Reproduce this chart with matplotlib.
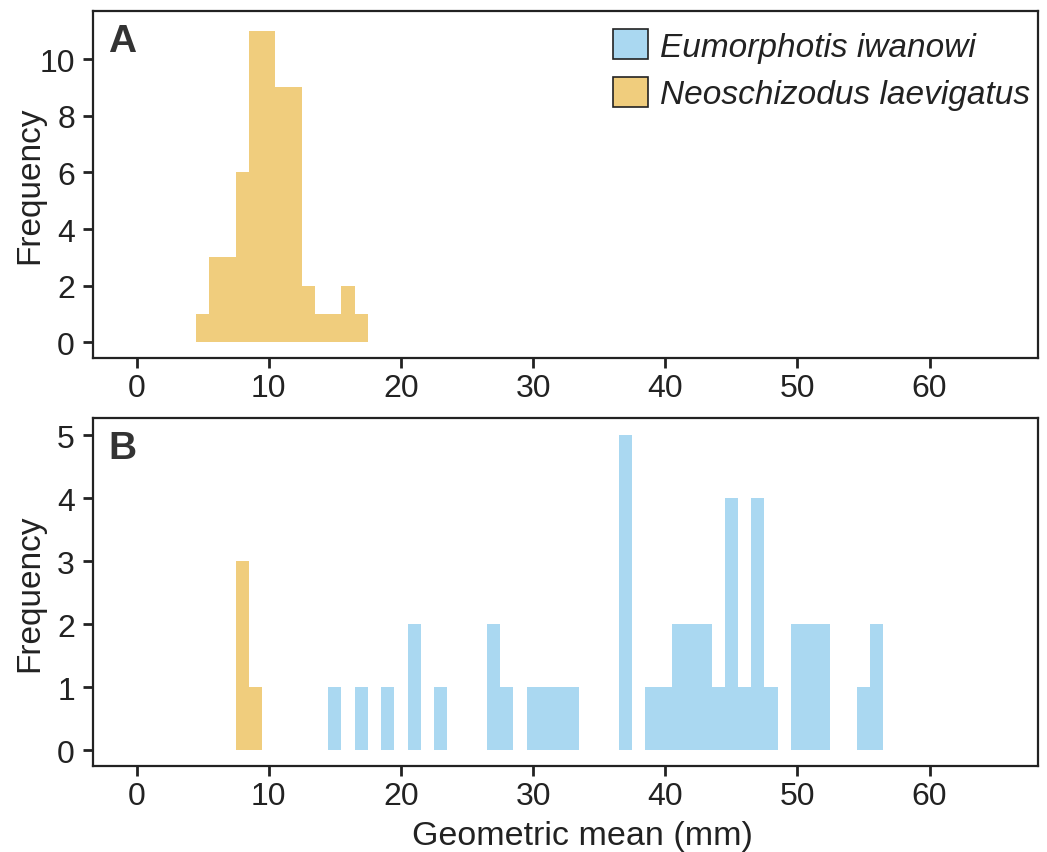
import numpy as np
import matplotlib
matplotlib.use("Agg")
import matplotlib.pyplot as plt
from matplotlib.patches import Patch

plt.rcParams['font.family'] = ['Liberation Sans', 'DejaVu Sans']

# bin centres (width 1 mm) and counts
a_neo_bins = [5, 6, 7, 8, 9, 10, 11, 12, 13, 14, 15, 16, 17]
a_neo_counts = [1, 3, 3, 6, 11, 11, 9, 9, 2, 1, 1, 2, 1]

b_neo_bins = [8, 9]
b_neo_counts = [3, 1]

b_eum_bins = [15, 17, 19, 21, 23, 27, 28, 30, 31, 32, 33, 37, 39, 40, 41, 42, 43,
              44, 45, 46, 47, 48, 50, 51, 52, 55, 56]
b_eum_counts = [1, 1, 1, 2, 1, 2, 1, 1, 1, 1, 1, 5, 1, 1, 2, 2, 2,
                1, 4, 1, 4, 1, 2, 2, 2, 1, 2]

species = ['Eumorphotis iwanowi', 'Neoschizodus laevigatus']
col_eum = '#aad8f1'
col_neo = '#f0cd7d'
ink = '#222222'

fig = plt.figure(figsize=(10.47, 8.53), dpi=100)
W, H = 1047, 853
axA = fig.add_axes([93 / W, 1 - 359 / H, (1038 - 93) / W, (359 - 12) / H])
axB = fig.add_axes([93 / W, 1 - 767 / H, (1038 - 93) / W, (767 - 419) / H])


def draw_hist(ax, bins, counts, color):
    ax.bar(bins, counts, width=1.0, color=color, edgecolor='none', align='center')


draw_hist(axA, a_neo_bins, a_neo_counts, col_neo)
draw_hist(axB, b_neo_bins, b_neo_counts, col_neo)
draw_hist(axB, b_eum_bins, b_eum_counts, col_eum)

for ax in (axA, axB):
    ax.set_xlim(-3.3, 68.2)
    ax.set_xticks([0, 10, 20, 30, 40, 50, 60])
    ax.tick_params(axis='both', direction='out', length=7, width=2, color=ink,
                   labelsize=23, labelcolor=ink)
    ax.tick_params(axis='x', pad=4)
    ax.tick_params(axis='y', pad=6)
    for s in ax.spines.values():
        s.set_color(ink)
        s.set_linewidth(1.6)
    ax.set_ylabel('Frequency', fontsize=24, color=ink)
    ax.yaxis.set_label_coords(-0.05, 0.5)

axA.set_ylim(-0.55, 11.7)
axA.set_yticks([0, 2, 4, 6, 8, 10])
axB.set_ylim(-0.25, 5.27)
axB.set_yticks([0, 1, 2, 3, 4, 5])
axB.set_xlabel('Geometric mean (mm)', fontsize=24.5, color=ink)
axB.xaxis.set_label_coords(0.518, -0.155)

axA.text(0.016, 0.965, 'A', transform=axA.transAxes, fontsize=28, fontweight='bold',
         color='#333333', va='top', ha='left')
axB.text(0.016, 0.965, 'B', transform=axB.transAxes, fontsize=28, fontweight='bold',
         color='#333333', va='top', ha='left')

handles = [Patch(facecolor=col_eum, edgecolor=ink, linewidth=1.2),
           Patch(facecolor=col_neo, edgecolor=ink, linewidth=1.2)]
leg = axA.legend(handles, species, loc='upper right', bbox_to_anchor=(1.0, 0.971),
                 frameon=False, prop={'size': 24, 'style': 'italic'},
                 handlelength=1.03, handleheight=1.0, handletextpad=0.36,
                 labelspacing=0.42, borderaxespad=0.0, borderpad=0.25)
for t in leg.get_texts():
    t.set_color(ink)

fig.savefig('out.png', dpi=100)
